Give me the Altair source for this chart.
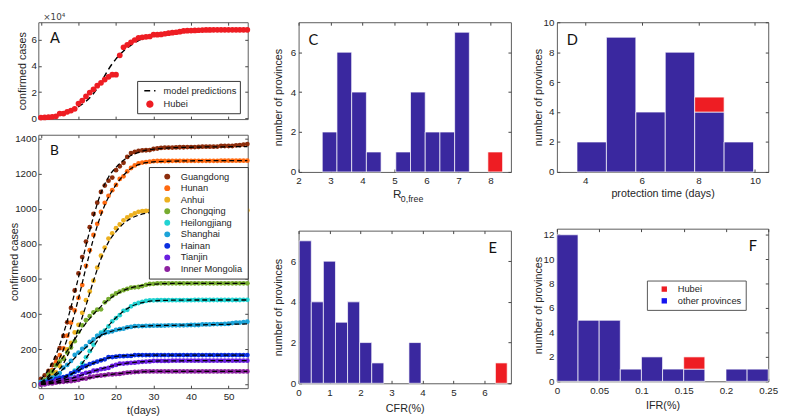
import altair as alt
import pandas as pd

# ---------------- data ----------------
days = list(range(56))
model_days = [0, 2, 4, 6, 8, 10, 12, 14, 16, 18, 20, 22, 24, 26, 28, 30, 35, 40, 45, 50, 55]

hubei_cases = [444, 549, 761, 1058, 1423, 3554, 3554, 4903, 5806, 7153, 11177, 13522, 16678, 19665,
               22112, 24953, 27100, 29631, 31728, 33366, 33366, 48206, 54406, 56249, 58182, 59989,
               61682, 62031, 62442, 62662, 64084, 64084, 64287, 64786, 65187, 65596, 65914, 66337,
               66907, 67103, 67217, 67332, 67466, 67592, 67666, 67707, 67743, 67760, 67773, 67781,
               67786, 67790, 67794, 67798, 67799, 67800]
hubei_model = [400, 900, 1800, 3300, 5500, 8800, 13000, 19000, 27500, 37500, 45500, 51500, 56000,
               59500, 61800, 63500, 66000, 67200, 67600, 67750, 67800]

provinces = ["Guangdong", "Hunan", "Anhui", "Chongqing", "Heilongjiang", "Shanghai", "Hainan",
             "Tianjin", "Inner Mongolia"]
province_colors = ["#8c2d0c", "#ff6a10", "#edb120", "#77ac30", "#22d3d3", "#1ca3d8", "#0b2fe0",
                   "#6a1fe0", "#8c22a0"]

guangdong = [32, 53, 78, 111, 151, 207, 277, 354, 436, 535, 632, 725, 813, 895, 970, 1034, 1095, 1131,
             1159, 1177, 1219, 1241, 1261, 1294, 1316, 1322, 1328, 1331, 1332, 1333, 1339, 1342, 1345,
             1347, 1347, 1347, 1348, 1349, 1349, 1350, 1350, 1350, 1351, 1352, 1352, 1352, 1352, 1353,
             1356, 1356, 1356, 1356, 1360, 1361, 1364, 1367]
hunan = [5, 9, 32, 83, 128, 168, 206, 278, 352, 422, 493, 566, 675, 764, 851, 914, 981, 1033, 1073,
         1105, 1135, 1169, 1184, 1212, 1231, 1246, 1257, 1262, 1265, 1267, 1270, 1271, 1271, 1271, 1271,
         1272, 1272, 1272, 1272, 1272, 1272, 1272, 1272, 1272, 1272, 1272, 1272, 1272, 1273, 1273, 1273,
         1273, 1273, 1273, 1273, 1273]
anhui = [9, 15, 39, 60, 70, 106, 152, 200, 237, 297, 340, 408, 480, 530, 591, 665, 733, 779, 830, 860,
         889, 910, 934, 950, 962, 973, 982, 986, 987, 988, 989, 989, 989, 989, 989, 989, 990, 990, 990,
         990, 990, 990, 990, 990, 990, 990, 990, 990, 990, 990, 990, 990, 990, 990, 990, 990]
chongqing = [9, 27, 57, 75, 110, 132, 147, 182, 211, 247, 300, 337, 366, 389, 411, 426, 428, 468, 486,
             505, 518, 529, 537, 544, 551, 553, 555, 560, 567, 572, 573, 575, 576, 576, 576, 576, 576,
             576, 576, 576, 576, 576, 576, 576, 576, 576, 576, 576, 576, 576, 576, 576, 576, 576, 576, 576]
heilongjiang = [2, 4, 9, 15, 21, 33, 38, 44, 59, 80, 95, 121, 155, 190, 227, 277, 295, 307, 331, 360,
                378, 395, 419, 425, 445, 457, 464, 470, 476, 479, 479, 480, 480, 480, 480, 480, 480, 480,
                480, 480, 480, 481, 481, 481, 481, 481, 481, 481, 481, 481, 481, 481, 481, 481, 482, 482]
shanghai = [16, 20, 33, 40, 53, 66, 96, 112, 135, 169, 182, 203, 219, 243, 257, 277, 286, 293, 299, 303,
            311, 315, 318, 326, 328, 333, 333, 333, 334, 334, 335, 335, 335, 336, 337, 337, 337, 337, 337,
            338, 339, 339, 339, 342, 342, 342, 344, 344, 344, 345, 346, 350, 353, 353, 355, 358]
hainan = [5, 8, 19, 22, 33, 40, 43, 49, 64, 72, 80, 99, 106, 117, 124, 131, 138, 144, 157, 157, 159, 162,
          162, 163, 163, 168, 168, 168, 168, 168, 168, 168, 168, 168, 168, 168, 168, 168, 168, 168, 168,
          168, 168, 168, 168, 168, 168, 168, 168, 168, 168, 168, 168, 168, 168, 168]
tianjin = [4, 8, 10, 14, 23, 24, 27, 31, 32, 41, 48, 60, 67, 69, 79, 81, 88, 91, 95, 106, 112, 119, 120,
           122, 124, 125, 128, 130, 131, 132, 135, 135, 135, 135, 135, 136, 136, 136, 136, 136, 136, 136,
           136, 136, 136, 136, 136, 136, 136, 136, 136, 136, 136, 136, 136, 136]
inner_mongolia = [0, 1, 7, 7, 11, 15, 16, 19, 20, 23, 27, 34, 35, 42, 46, 50, 52, 54, 58, 58, 60, 61, 65,
                  68, 70, 72, 73, 75, 75, 75, 75, 75, 75, 75, 75, 75, 75, 75, 75, 75, 75, 75, 75, 75, 75,
                  75, 75, 75, 75, 75, 75, 75, 75, 75, 75, 75]

guangdong_model = [30, 85, 170, 290, 440, 610, 790, 955, 1090, 1180, 1235, 1275, 1302, 1320, 1332, 1338,
                   1346, 1349, 1351, 1352, 1353]
hunan_model = [8, 40, 110, 200, 330, 490, 665, 830, 965, 1065, 1135, 1190, 1228, 1250, 1261, 1266, 1270,
               1272, 1273, 1273, 1273]
anhui_model = [6, 30, 65, 120, 210, 320, 450, 590, 715, 810, 870, 915, 945, 963, 974, 980, 987, 990, 992,
               993, 994]
chongqing_model = [12, 50, 100, 160, 225, 290, 350, 400, 445, 482, 512, 535, 550, 560, 567, 571, 575, 576,
                   576, 576, 576]
heilongjiang_model = [2, 7, 16, 32, 58, 95, 150, 215, 280, 335, 380, 418, 444, 461, 471, 476, 480, 481,
                      481, 481, 481]
shanghai_model = [14, 30, 55, 90, 130, 172, 212, 250, 280, 298, 310, 319, 326, 330, 333, 335, 337, 339,
                  341, 343, 345]
hainan_model = [5, 15, 28, 42, 60, 80, 102, 122, 139, 152, 160, 164, 166, 167, 168, 168, 168, 168, 168,
                168, 168]
tianjin_model = [4, 10, 17, 25, 35, 48, 63, 77, 89, 101, 111, 119, 125, 129, 132, 134, 135, 136, 136, 136,
                 136]
inner_mongolia_model = [1, 4, 9, 14, 20, 27, 35, 43, 50, 56, 61, 66, 70, 72, 74, 75, 75, 75, 75, 75, 75]

# histograms: bin start, bin end, count, bottom of the bar, group
c_start = [2.74, 3.20, 3.66, 4.12, 5.04, 5.50, 5.96, 6.42, 6.88, 7.92]
c_end = [3.20, 3.66, 4.12, 4.58, 5.50, 5.96, 6.42, 6.88, 7.34, 8.38]
c_count = [2, 6, 4, 1, 1, 4, 2, 2, 7, 1]
c_bottom = [0, 0, 0, 0, 0, 0, 0, 0, 0, 0]
c_group = ["other provinces"] * 9 + ["Hubei"]

d_start = [3.71, 4.75, 5.79, 6.83, 7.87, 8.91, 7.87]
d_end = [4.75, 5.79, 6.83, 7.87, 8.91, 9.95, 8.91]
d_count = [2, 9, 4, 8, 4, 2, 1]
d_bottom = [0, 0, 0, 0, 0, 0, 4]
d_group = ["other provinces"] * 6 + ["Hubei"]

e_start = [0.02, 0.41, 0.80, 1.19, 1.58, 1.97, 2.36, 3.56, 6.35]
e_end = [0.41, 0.80, 1.19, 1.58, 1.97, 2.36, 2.75, 3.95, 6.73]
e_count = [7, 4, 6, 3, 4, 2, 1, 2, 1]
e_bottom = [0, 0, 0, 0, 0, 0, 0, 0, 0]
e_group = ["other provinces"] * 8 + ["Hubei"]

f_start = [0.0, 0.025, 0.05, 0.075, 0.1, 0.125, 0.15, 0.2, 0.225, 0.15]
f_end = [0.025, 0.05, 0.075, 0.1, 0.125, 0.15, 0.175, 0.225, 0.25, 0.175]
f_count = [12, 5, 5, 1, 2, 1, 1, 1, 1, 1]
f_bottom = [0, 0, 0, 0, 0, 0, 0, 0, 0, 1]
f_group = ["other provinces"] * 9 + ["Hubei"]

# ---------------- styling ----------------
FONT = "Liberation Sans"
TXT = "#262626"
RED = "#ee1d23"
BLUE = "#3a289f"
LEG_BLUE = "#1414f0"
LETTER_FONT = "Lato"

WA, HA, HB = 214, 99, 259
WC, HC, HE = 217, 153, 156
WD, HD, HF = 216, 153, 156

INDEP = dict(color="independent", fill="independent", stroke="independent", shape="independent",
             size="independent", strokeDash="independent")


def mirror(df, xf, yf, xscale, yscale, xvals, yvals, extra=None):
    """Invisible layer that carries the top and right (inward) tick axes of the box."""
    enc = dict(
        x=alt.X(xf, scale=xscale, axis=alt.Axis(orient="top", values=xvals, labels=False, title=None,
                                                offset=-3, tickSize=3)),
        y=alt.Y(yf, scale=yscale, axis=alt.Axis(orient="right", values=yvals, labels=False, title=None,
                                                offset=-3, tickSize=3)),
    )
    if extra:
        enc.update(extra)
    return alt.Chart(df).mark_point(opacity=0, filled=True).encode(**enc)


def letter_mark(s, x, y, size=15):
    return alt.Chart(pd.DataFrame({"s": [s]})).mark_text(
        font=LETTER_FONT, fontSize=size, align="left", baseline="alphabetic", color="#111111").encode(
        x=alt.value(x), y=alt.value(y), text="s:N")


# ---------------- panel A ----------------
dfA_pts = pd.DataFrame({"t": days, "cases": hubei_cases, "series": "Hubei"})
dfA_mod = pd.DataFrame({"t": model_days, "cases": hubei_model, "series": "model predictions"})

x_days = alt.Scale(domain=[-0.7, 55.1], nice=False, zero=False)
yA_scale = alt.Scale(domain=[-700, 73600], nice=False, zero=False)
day_ticks = [0, 10, 20, 30, 40, 50]
dom_a = ["model predictions", "Hubei"]
legA = alt.Legend(title=None, orient="none", legendX=101, legendY=60, fillColor="white",
                  strokeColor="#333333", padding=3, labelFontSize=9.5, labelColor=TXT, rowPadding=2,
                  labelOffset=7, symbolStrokeWidth=1.6, symbolOpacity=1, symbolOffset=3)
xA = alt.X("t:Q", scale=x_days,
           axis=alt.Axis(values=day_ticks, labels=False, title=None, offset=-3, tickSize=3))
yA = alt.Y("cases:Q", scale=yA_scale,
           axis=alt.Axis(values=[0, 20000, 40000, 60000], labelExpr="datum.value / 10000",
                         title="confirmed cases", offset=-3, tickSize=3, labelPadding=2, titlePadding=4))
lineA = alt.Chart(dfA_mod).mark_line(strokeWidth=1.5, interpolate="monotone").encode(
    x=xA, y=yA,
    stroke=alt.Stroke("series:N", scale=alt.Scale(domain=dom_a, range=["#000000", RED]), legend=legA),
    strokeDash=alt.StrokeDash("series:N", scale=alt.Scale(domain=dom_a, range=[[6, 4], [1, 0]]),
                              legend=legA))
ptsA = alt.Chart(dfA_pts).mark_point(filled=True, opacity=1).encode(
    x=xA, y=yA,
    fill=alt.Fill("series:N", scale=alt.Scale(domain=dom_a, range=["transparent", RED]), legend=legA),
    shape=alt.Shape("series:N", scale=alt.Scale(domain=dom_a, range=["stroke", "circle"]), legend=legA),
    size=alt.Size("series:N", scale=alt.Scale(domain=dom_a, range=[130, 34]), legend=legA))
expA = alt.Chart(pd.DataFrame({"s": ["×10⁴"]})).mark_text(
    font="DejaVu Sans", fontSize=9, align="left", baseline="bottom", color="#444444").encode(
    x=alt.value(5), y=alt.value(0), text="s:N")
mirA = mirror(dfA_pts, "t:Q", "cases:Q", x_days, yA_scale, day_ticks, [0, 20000, 40000, 60000])
panelA = alt.layer(alt.layer(lineA, ptsA, letter_mark("A", 12, 21), expA), mirA).resolve_axis(
    x="independent", y="independent").properties(width=WA, height=HA)

# ---------------- panel B ----------------
series_b = [guangdong, hunan, anhui, chongqing, heilongjiang, shanghai, hainan, tianjin, inner_mongolia]
models_b = [guangdong_model, hunan_model, anhui_model, chongqing_model, heilongjiang_model,
            shanghai_model, hainan_model, tianjin_model, inner_mongolia_model]
dfB_pts = pd.concat([pd.DataFrame({"t": days, "cases": v, "province": p})
                     for p, v in zip(provinces, series_b)], ignore_index=True)
dfB_mod = pd.concat([pd.DataFrame({"t": model_days, "cases": v, "province": p})
                     for p, v in zip(provinces, models_b)], ignore_index=True)

yB_scale = alt.Scale(domain=[-20, 1420], nice=False, zero=False)
b_ticks = [0, 200, 400, 600, 800, 1000, 1200, 1400]
xB = alt.X("t:Q", scale=x_days,
           axis=alt.Axis(values=day_ticks, title="t(days)", offset=-3, tickSize=3,
                         labelPadding=4, titlePadding=3, labelFlush=False))
yB = alt.Y("cases:Q", scale=yB_scale,
           axis=alt.Axis(values=b_ticks, format="d", title="confirmed cases",
                         offset=-3, tickSize=3, labelPadding=2, titleX=-22))
legB = alt.Legend(title=None, orient="none", legendX=113, legendY=33, fillColor="white",
                  strokeColor="#333333", padding=5, labelFontSize=9.5, labelColor=TXT, symbolType="circle",
                  symbolSize=36, rowPadding=0.8, symbolOffset=9, labelOffset=9, symbolOpacity=1)
ptsB = alt.Chart(dfB_pts).mark_circle(size=24, opacity=1).encode(
    x=xB, y=yB,
    color=alt.Color("province:N", scale=alt.Scale(domain=provinces, range=province_colors), legend=legB))
lineB = alt.Chart(dfB_mod).mark_line(color="black", strokeDash=[5, 3], strokeWidth=1.3,
                                     interpolate="monotone").encode(x=xB, y=yB, detail="province:N")
mirB = mirror(dfB_pts, "t:Q", "cases:Q", x_days, yB_scale, day_ticks, b_ticks)
panelB = alt.layer(alt.layer(ptsB, lineB, letter_mark("B", 12, 21, 14)), mirB).resolve_axis(
    x="independent", y="independent").properties(width=WA, height=HB)

# ---------------- histograms ----------------
# bar colours (no legend); the legend of panel F comes from its own scale below
col_hist = alt.Scale(domain=["other provinces", "Hubei"], range=[BLUE, RED])


def hist(start, end, count, bottom, group, xdom, xvals, ydom, yvals, xtitle, ytp, xtp,
         legend=None, xfmt=None):
    df = pd.DataFrame({"start": start, "end": end, "bottom": bottom, "group": group,
                       "legend_group": group})
    df["top"] = [b + c for b, c in zip(bottom, count)]
    xs = alt.Scale(domain=xdom, nice=False, zero=False)
    ys = alt.Scale(domain=ydom, nice=False)
    xaxis_kw = dict(values=xvals, offset=-3, tickSize=3, labelPadding=4, labelFlush=False,
                    titlePadding=xtp, title=xtitle)
    if xfmt:
        xaxis_kw["labelExpr"] = xfmt
    bars = alt.Chart(df).mark_rect(stroke="white", strokeWidth=0.7).encode(
        x=alt.X("start:Q", scale=xs, axis=alt.Axis(**xaxis_kw)),
        x2="end:Q",
        y=alt.Y("bottom:Q", scale=ys,
                axis=alt.Axis(values=yvals, title="number of provinces", offset=-3, tickSize=3,
                              labelPadding=3, titlePadding=ytp)),
        y2="top:Q",
        color=alt.Color("group:N", scale=col_hist, legend=None),
    )
    extra = None
    if legend is not None:
        extra = {"fill": alt.Fill("legend_group:N",
                                  scale=alt.Scale(domain=["Hubei", "other provinces"],
                                                  range=[RED, LEG_BLUE]), legend=legend)}
    mir = mirror(df, "start:Q", "bottom:Q", xs, ys, xvals, yvals, extra)
    return bars, mir


barsC, mirC = hist(c_start, c_end, c_count, c_bottom, c_group, [2, 8.64], [2, 3, 4, 5, 6, 7, 8],
                   [0, 7.5], [0, 2, 4, 6], None, 7, 2)
r_main = alt.Chart(pd.DataFrame({"s": ["R"]})).mark_text(
    font=FONT, fontSize=12, align="left", baseline="alphabetic", color=TXT).encode(
    x=alt.value(WC / 2 - 12), y=alt.value(HC + 27), text="s:N")
r_sub = alt.Chart(pd.DataFrame({"s": ["0,free"]})).mark_text(
    font=FONT, fontSize=9, align="left", baseline="alphabetic", color=TXT).encode(
    x=alt.value(WC / 2 - 4), y=alt.value(HC + 31), text="s:N")
panelC = alt.layer(barsC, mirC, letter_mark("C", 10, 23), r_main, r_sub).resolve_axis(
    x="independent", y="independent").properties(width=WC, height=HC)

barsD, mirD = hist(d_start, d_end, d_count, d_bottom, d_group, [3, 10.47], [4, 6, 8, 10],
                   [0, 10], [0, 2, 4, 6, 8, 10], "protection time (days)", 0, 2)
panelD = alt.layer(barsD, mirD, letter_mark("D", 10, 23)).resolve_axis(
    x="independent", y="independent").properties(width=WD, height=HD)

barsE, mirE = hist(e_start, e_end, e_count, e_bottom, e_group, [0, 6.85], [0, 1, 2, 3, 4, 5, 6],
                   [0, 7.5], [0, 2, 4, 6], "CFR(%)", 7, 6)
panelE = alt.layer(barsE, mirE, letter_mark("E", WC - 23, 23)).resolve_axis(
    x="independent", y="independent").properties(width=WC, height=HE)

legF = alt.Legend(title=None, orient="none", legendX=92, legendY=53, fillColor="white",
                  strokeColor="#555555", padding=4, labelFontSize=9.5, labelColor=TXT, symbolType="square",
                  symbolSize=30, rowPadding=1, symbolOffset=9, labelOffset=9, symbolOpacity=1)
barsF, mirF = hist(f_start, f_end, f_count, f_bottom, f_group, [0, 0.25],
                   [0, 0.05, 0.1, 0.15, 0.2, 0.25], [0, 12.5], [0, 2, 4, 6, 8, 10, 12],
                   "IFR(%)", 0, 5, legend=legF, xfmt="format(datum.value, '~g')")
panelF = alt.layer(barsF, mirF, letter_mark("F", WD - 20, 23)).resolve_axis(
    x="independent", y="independent").properties(width=WD, height=HF)

col1 = alt.vconcat(panelA, panelB, spacing=9).resolve_scale(**INDEP)
col2 = alt.vconcat(panelC, panelE, spacing=25).resolve_scale(**INDEP)
col3 = alt.vconcat(panelD, panelF, spacing=29).resolve_scale(**INDEP)

chart = alt.hconcat(col1, col2, col3, spacing=20).resolve_scale(**INDEP).properties(
    padding={"left": 0, "top": 0, "right": 0, "bottom": 0}
).configure(font=FONT, padding={"left": 0, "top": 0, "right": 0, "bottom": 0}).configure_view(
    stroke="#5a5a5a", strokeWidth=1
).configure_axis(
    labelFont=FONT, titleFont=FONT, labelFontSize=10, titleFontSize=11, titleFontWeight="normal",
    labelColor=TXT, titleColor=TXT, tickColor="#444444", domain=False, grid=False
).configure_legend(labelFont=FONT)

chart.save("out.html", embed_options={"renderer": "svg", "actions": False})
